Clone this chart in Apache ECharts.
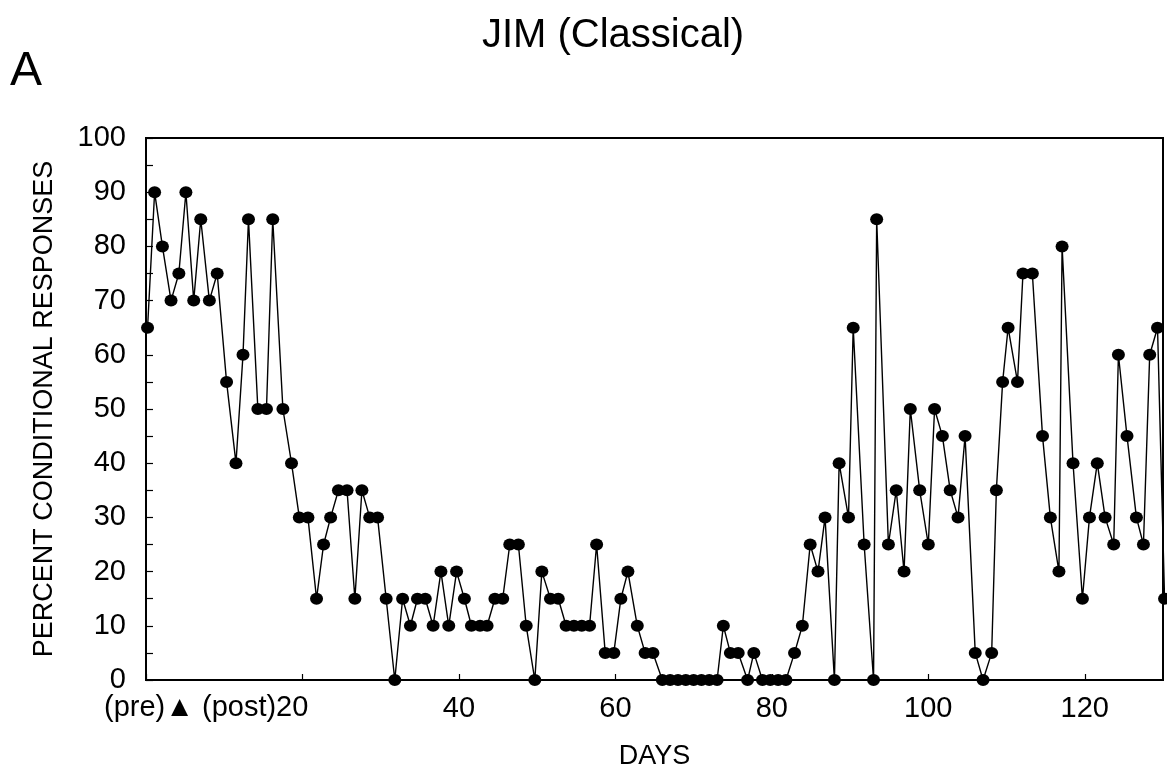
<!DOCTYPE html>
<html>
<head>
<meta charset="utf-8">
<title>JIM (Classical)</title>
<script src="https://cdn.jsdelivr.net/npm/echarts@6/dist/echarts.min.js"></script>
<style>
    html, body { margin: 0; padding: 0; background: #fff; }
    #main { width: 1167px; height: 775px; }
</style>
</head>
<body>
<div id="main"></div>
<script>
var fontName = "'Liberation Sans', Arial, Helvetica, sans-serif";

// sessions, day position
var days = [
    0.2, 1.1, 2.1, 3.2, 4.2, 5.1, 6.1, 7.0, 8.1, 9.1,
    10.3, 11.5, 12.4, 13.1, 14.3, 15.4, 16.2, 17.5, 18.6, 19.6,
    20.7, 21.8, 22.7, 23.6, 24.6, 25.7, 26.7, 27.6, 28.6, 29.6,
    30.7, 31.8, 32.8, 33.8, 34.7, 35.7, 36.7, 37.7, 38.7, 39.7,
    40.7, 41.6, 42.7, 43.6, 44.6, 45.6, 46.5, 47.6, 48.6, 49.7,
    50.6, 51.7, 52.7, 53.7, 54.7, 55.7, 56.7, 57.6, 58.7, 59.8,
    60.7, 61.6, 62.8, 63.8, 64.8, 66.0, 67.0, 68.0, 69.0, 70.0,
    71.0, 72.0, 73.0, 73.8, 74.7, 75.7, 76.9, 77.7, 78.8, 79.8,
    80.8, 81.8, 82.9, 83.9, 84.9, 85.9, 86.8, 88.0, 88.6, 89.8,
    90.4, 91.8, 93.0, 93.4, 94.9, 95.9, 96.9, 97.7, 98.9, 100.0,
    100.8, 101.8, 102.8, 103.8, 104.7, 106.0, 107.0, 108.1, 108.7, 109.5,
    110.2, 111.4, 112.1, 113.3, 114.6, 115.6, 116.7, 117.1, 118.5, 119.7,
    120.6, 121.6, 122.6, 123.7, 124.3, 125.4, 126.6, 127.5, 128.3, 129.3,
    130.2
];

// percent conditional responses
var responses = [
    65, 90, 80, 70, 75, 90, 70, 85, 70, 75,
    55, 40, 60, 85, 50, 50, 85, 50, 40, 30,
    30, 15, 25, 30, 35, 35, 15, 35, 30, 30,
    15, 0, 15, 10, 15, 15, 10, 20, 10, 20,
    15, 10, 10, 10, 15, 15, 25, 25, 10, 0,
    20, 15, 15, 10, 10, 10, 10, 25, 5, 5,
    15, 20, 10, 5, 5, 0, 0, 0, 0, 0,
    0, 0, 0, 10, 5, 5, 0, 5, 0, 0,
    0, 0, 5, 10, 25, 20, 30, 0, 40, 30,
    65, 25, 0, 85, 25, 35, 20, 50, 35, 25,
    50, 45, 35, 30, 45, 5, 0, 5, 35, 55,
    65, 55, 75, 75, 45, 30, 20, 80, 40, 15,
    30, 40, 30, 25, 60, 45, 30, 25, 60, 65,
    15
];

var xTicks = [40, 60, 80, 100, 120];
var preLabel = '(pre)\u25B2 (post)20';

var seriesData = [];
for (var i = 0; i < days.length; i++) {
    seriesData.push([days[i], responses[i]]);
}

var myChart = echarts.init(document.getElementById('main'));

var option = {
    animation: false,
    backgroundColor: '#fff',
    textStyle: {
        fontFamily: fontName,
        color: '#000'
    },
    title: {
        text: 'JIM (Classical)',
        left: 608,
        top: 11,
        textAlign: 'center',
        textStyle: {
            fontFamily: fontName,
            fontSize: 40,
            fontWeight: 'normal',
            color: '#000'
        }
    },
    graphic: [{
        type: 'text',
        left: 10,
        top: 48,
        style: {
            text: 'A',
            font: '48px ' + fontName,
            fill: '#000'
        }
    }, {
        type: 'text',
        left: 104,
        top: 693,
        style: {
            text: preLabel,
            font: '29px ' + fontName,
            fill: '#000'
        }
    }],
    grid: {
        left: 146,
        right: 4,
        top: 138,
        bottom: 94,
        show: true,
        borderColor: '#000',
        borderWidth: 2,
        containLabel: false
    },
    xAxis: {
        type: 'value',
        min: 0,
        max: 130,
        interval: 20,
        name: 'DAYS',
        nameLocation: 'middle',
        nameGap: 63,
        nameTextStyle: {
            fontSize: 27,
            color: '#000'
        },
        axisLine: {
            lineStyle: { color: '#000', width: 2 }
        },
        axisTick: {
            inside: true,
            length: 6,
            lineStyle: { color: '#000', width: 1.2 }
        },
        axisLabel: {
            margin: 14,
            fontSize: 29,
            color: '#000',
            showMaxLabel: false,
            formatter: function (v) {
                return xTicks.indexOf(v) >= 0 ? String(v) : '';
            }
        },
        splitLine: { show: false }
    },
    yAxis: {
        type: 'value',
        min: 0,
        max: 100,
        interval: 10,
        name: 'PERCENT CONDITIONAL RESPONSES',
        nameLocation: 'middle',
        nameRotate: 90,
        nameGap: 88,
        nameTextStyle: {
            fontSize: 27,
            color: '#000'
        },
        axisLine: {
            lineStyle: { color: '#000', width: 2 }
        },
        axisTick: {
            inside: true,
            length: 7,
            lineStyle: { color: '#000', width: 1.2 }
        },
        minorTick: {
            show: true,
            splitNumber: 2,
            length: 7,
            lineStyle: { color: '#000', width: 1.2 }
        },
        axisLabel: {
            margin: 20,
            fontSize: 29,
            color: '#000'
        },
        splitLine: { show: false }
    },
    series: [{
        name: 'responses',
        type: 'line',
        data: seriesData,
        clip: false,
        symbol: 'circle',
        symbolSize: [13, 12],
        itemStyle: { color: '#000' },
        lineStyle: { color: '#000', width: 1.4 }
    }]
};

myChart.setOption(option);
</script>
</body>
</html>
